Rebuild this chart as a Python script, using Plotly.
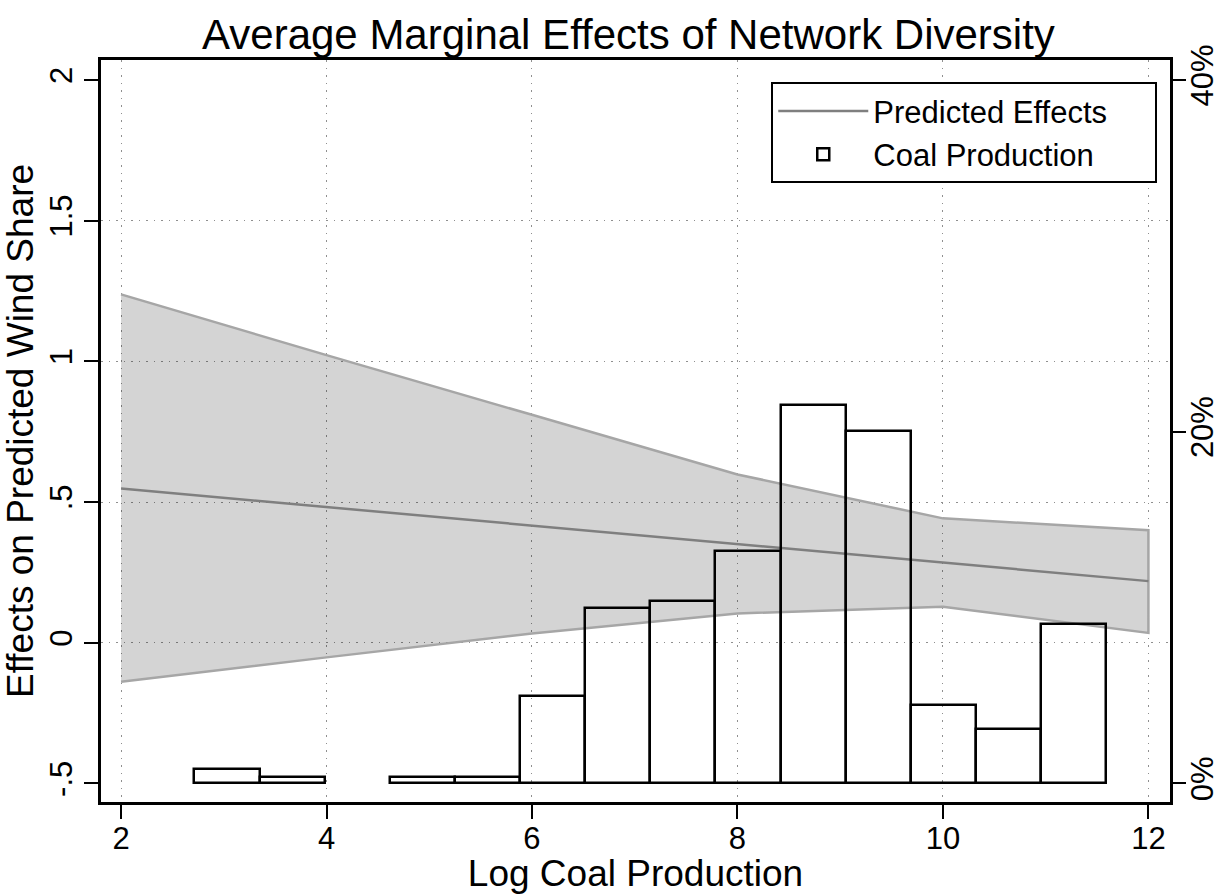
import plotly.graph_objects as go

# ---- data ----
x_grid = [2, 4, 6, 8, 10, 12]
effect = [0.548, 0.482, 0.416, 0.350, 0.284, 0.219]
ci_upper = [1.238, 1.022, 0.810, 0.598, 0.442, 0.400]
ci_lower = [-0.139, -0.052, 0.033, 0.104, 0.128, 0.035]

hist_x = [3.031, 3.665, 4.933, 5.567, 6.201, 6.835, 7.469, 8.103, 8.737, 9.371, 10.005, 10.639, 11.273]
hist_pct = [0.83, 0.36, 0.36, 0.36, 4.95, 10.0, 10.4, 13.2, 21.5, 20.06, 4.45, 3.07, 9.05]
bin_width = 0.634

x_ticks = [2, 4, 6, 8, 10, 12]
y_ticks = [-0.5, 0, 0.5, 1, 1.5, 2]
y_tick_text = ["-.5", "0", ".5", "1", "1.5", "2"]
y_grid = [0, 0.5, 1, 1.5]
y2_ticks = [0, 20, 40]
y2_tick_text = ["0%", "20%", "40%"]

FONT = "Liberation Sans, Arial, Helvetica, sans-serif"
GRID = dict(showgrid=True, gridcolor="#8f8f8f", griddash="1.5px,6px", gridwidth=1)
PAD = "\u00a0" * 5

fig = go.Figure()

# confidence band
fig.add_trace(go.Scatter(
    x=x_grid + x_grid[::-1],
    y=ci_upper + ci_lower[::-1],
    fill="toself", fillcolor="rgba(0,0,0,0.17)",
    line=dict(color="#a6a6a6", width=2.5),
    mode="lines", showlegend=False, hoverinfo="skip",
))
# predicted effects line
fig.add_trace(go.Scatter(
    x=x_grid, y=effect, mode="lines",
    line=dict(color="#7f7f7f", width=2.5),
    name="Predicted Effects" + PAD,
))
# histogram on secondary axis
fig.add_trace(go.Bar(
    x=hist_x, y=hist_pct, width=bin_width, yaxis="y2",
    marker=dict(color="rgba(0,0,0,0)", line=dict(color="black", width=2.5)),
    name="Coal Production" + PAD,
))
# invisible trace to carry selective horizontal gridlines
fig.add_trace(go.Scatter(x=[None], y=[None], yaxis="y3", showlegend=False, hoverinfo="skip"))

yr = [-0.566, 2.071]
fig.update_layout(
    width=1225, height=894,
    margin=dict(l=101, r=55, t=60, b=92),
    paper_bgcolor="white", plot_bgcolor="white",
    font=dict(family=FONT, size=31, color="black"),
    title=dict(text="Average Marginal Effects of Network Diversity",
               x=0.513, xanchor="center", y=0.962, yanchor="middle",
               yref="container", font=dict(size=42, color="black")),
    xaxis=dict(range=[1.805, 12.21], tickvals=x_ticks, ticks="outside", ticklen=14,
               tickwidth=2, tickcolor="black", showline=True, linecolor="black",
               linewidth=2.5, mirror=True, zeroline=False, automargin=False,
               ticklabelstandoff=-7,
               title=dict(text="Log Coal Production", standoff=22),
               tickfont=dict(size=31), **GRID),
    yaxis=dict(range=yr, tickvals=y_ticks, ticktext=y_tick_text, tickangle=-90,
               ticks="outside", ticklen=14, tickwidth=2, tickcolor="black",
               showline=True, linecolor="black", linewidth=2.5, showgrid=False,
               zeroline=False, automargin=False,
               title=dict(text="Effects on Predicted Wind Share", standoff=6),
               tickfont=dict(size=31)),
    yaxis2=dict(range=[-1.056, 41.14], overlaying="y", side="right",
                tickvals=y2_ticks, ticktext=y2_tick_text, tickangle=-90, ticks="outside",
                ticklen=13, tickwidth=2, tickcolor="black", showline=True,
                linecolor="black", linewidth=2.5, showgrid=False, zeroline=False,
                automargin=False, ticklabelstandoff=-10, tickfont=dict(size=31)),
    yaxis3=dict(range=yr, overlaying="y", tickvals=y_grid, showticklabels=False,
                ticks="", zeroline=False, showline=False, automargin=False, **GRID),
    legend=dict(x=0.627, y=0.970, xanchor="left", yanchor="top",
                bordercolor="black", borderwidth=2, bgcolor="white",
                font=dict(size=31), itemwidth=90, tracegroupgap=0),
    bargap=0,
)

fig.write_html("out.html")
